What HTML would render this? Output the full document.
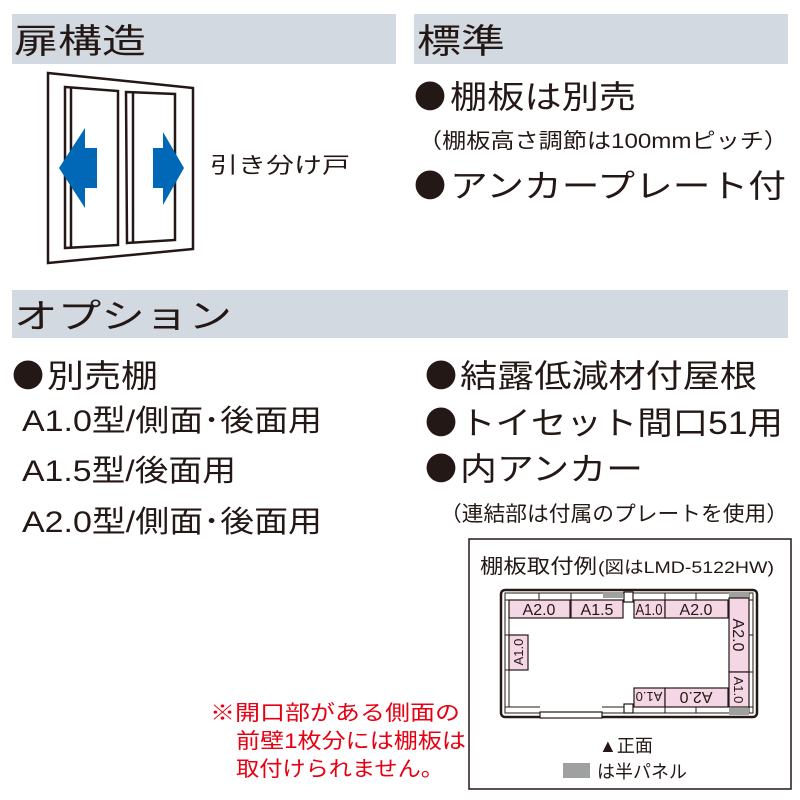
<!DOCTYPE html>
<html><head><meta charset="utf-8"><style>html,body{margin:0;padding:0;background:#fff}svg{display:block}</style></head><body>
<svg width="800" height="800" viewBox="0 0 800 800" xmlns="http://www.w3.org/2000/svg" font-family="'Liberation Sans','Noto Sans CJK JP',sans-serif" fill="#231815">
<rect x="12" y="14" width="384" height="50" fill="#d3d9e0"/>
<rect x="414" y="14" width="374" height="50" fill="#d3d9e0"/>
<rect x="12" y="290" width="776" height="48" fill="#d3d9e0"/>
<text x="14" y="53" font-size="34" textLength="132" lengthAdjust="spacingAndGlyphs">扉構造</text>
<text x="417" y="53" font-size="34" textLength="88" lengthAdjust="spacingAndGlyphs">標準</text>
<text x="14" y="328" font-size="34" textLength="218" lengthAdjust="spacingAndGlyphs">オプション</text>
<!-- door -->
<g fill="none" stroke="#231815" stroke-width="2.5">
<polygon points="48,73 193,88 193,249 48,263"/>
<polygon points="65,87 118,91 118,245 65,248"/>
<line x1="71" y1="88" x2="71" y2="247"/>
<polygon points="126,92 175,94 175,240 127,243"/>
<line x1="133" y1="92" x2="133" y2="242"/>
</g>
<polygon fill="#0068b7" points="59,168 85,128 85,148 97,148 97,188 85,188 85,208"/>
<polygon fill="#0068b7" points="184,168 163,132 163,148 153,148 153,188 163,188 163,205"/>
<text x="210" y="173" font-size="22" textLength="140" lengthAdjust="spacingAndGlyphs">引き分け戸</text>
<g font-family="'Noto Sans CJK JP',sans-serif">
<text x="414" y="108" font-size="32">●</text>
<text x="414" y="197" font-size="32">●</text>
<text x="12" y="387" font-size="32">●</text>
<text x="425" y="387" font-size="32">●</text>
<text x="425" y="434" font-size="32">●</text>
<text x="425" y="480" font-size="32">●</text>
</g>
<!-- standard -->
<text x="450" y="108" font-size="32" textLength="186" lengthAdjust="spacingAndGlyphs">棚板は別売</text>
<text x="418" y="148" font-size="21" textLength="370" lengthAdjust="spacingAndGlyphs">（棚板高さ調節は100mmピッチ）</text>
<text x="450" y="197" font-size="32" textLength="336" lengthAdjust="spacingAndGlyphs">アンカープレート付</text>
<!-- options left -->
<text x="47" y="387" font-size="32" textLength="111" lengthAdjust="spacingAndGlyphs">別売棚</text>
<text x="22" y="431" font-size="30" textLength="300" lengthAdjust="spacingAndGlyphs">A1.0型/側面･後面用</text>
<text x="22" y="481" font-size="30" textLength="214" lengthAdjust="spacingAndGlyphs">A1.5型/後面用</text>
<text x="22" y="532" font-size="30" textLength="300" lengthAdjust="spacingAndGlyphs">A2.0型/側面･後面用</text>
<!-- options right -->
<text x="460" y="387" font-size="32" textLength="297" lengthAdjust="spacingAndGlyphs">結露低減材付屋根</text>
<text x="460" y="434" font-size="32" textLength="323" lengthAdjust="spacingAndGlyphs">トイセット間口51用</text>
<text x="460" y="480" font-size="32" textLength="183" lengthAdjust="spacingAndGlyphs">内アンカー</text>
<text x="440" y="521" font-size="21" textLength="348" lengthAdjust="spacingAndGlyphs">（連結部は付属のプレートを使用）</text>
<!-- shelf diagram -->
<rect x="469" y="539" width="322" height="250" fill="none" stroke="#231815" stroke-width="1.5"/>
<text x="480" y="573" font-size="20" textLength="117" lengthAdjust="spacingAndGlyphs">棚板取付例</text>
<text x="598" y="573" font-size="17" textLength="176" lengthAdjust="spacingAndGlyphs">(図はLMD-5122HW)</text>
<g stroke="#231815" stroke-width="1.2" fill="none">
<rect x="501" y="590" width="256" height="127" rx="4" stroke-width="2.5"/>
<rect x="505" y="593" width="248" height="120" stroke-width="1"/>
<path d="M505,600 H753 M505,707 H540 M602,707 H624 M633,707 H753 M509,600 V707 M749,593 V713 M539,593 V600 M571,593 V600 M665,593 V600 M696,593 V600 M505,635 H509 M505,670 H509 M749,635 H753 M749,672 H753 M665,707 V713 M696,707 V713" stroke-width="1"/>
</g>
<g fill="#fff" stroke="#231815" stroke-width="1.2">
<rect x="624" y="592" width="9" height="10"/>
<rect x="624" y="704" width="9" height="9"/>
<rect x="540" y="712" width="62" height="6"/>
</g>
<rect x="603" y="592" width="20" height="6" fill="#9fa0a0"/>
<rect x="729" y="592" width="20" height="6" fill="#9fa0a0"/>
<rect x="729" y="708" width="20" height="7" fill="#9fa0a0"/>
<g fill="#f4d6e4" stroke="#231815" stroke-width="1.2">
<rect x="509" y="600" width="61" height="18"/>
<rect x="571" y="600" width="52" height="18"/>
<rect x="634" y="600" width="31" height="18"/>
<rect x="665" y="600" width="63" height="18"/>
<rect x="729" y="598" width="20" height="74"/>
<rect x="729" y="672" width="20" height="35"/>
<rect x="509" y="635" width="19" height="35"/>
<rect x="634" y="688" width="31" height="19"/>
<rect x="665" y="688" width="63" height="19"/>
</g>
<g font-size="16">
<text x="539" y="615" text-anchor="middle">A2.0</text>
<text x="597" y="615" text-anchor="middle">A1.5</text>
<text x="649" y="615" text-anchor="middle" textLength="27" lengthAdjust="spacingAndGlyphs">A1.0</text>
<text x="696" y="615" text-anchor="middle">A2.0</text>
<text transform="translate(733,635) rotate(90)" text-anchor="middle">A2.0</text>
<text transform="translate(734,690) rotate(90)" text-anchor="middle" font-size="13">A1.0</text>
<text transform="translate(523,652) rotate(-90)" text-anchor="middle" font-size="13">A1.0</text>
<text transform="translate(649,692) rotate(180)" text-anchor="middle" font-size="13">A1.0</text>
<text transform="translate(696,692) rotate(180)" text-anchor="middle">A2.0</text>
</g>
<text x="599" y="752" font-size="18">▲正面</text>
<rect x="563" y="763" width="27" height="15" fill="#9fa0a0"/>
<text x="597" y="778" font-size="18">は半パネル</text>
<!-- red note -->
<g fill="#e60012" font-size="21">
<text x="210" y="720" textLength="250" lengthAdjust="spacingAndGlyphs">※開口部がある側面の</text>
<text x="236" y="748" textLength="230" lengthAdjust="spacingAndGlyphs">前壁1枚分には棚板は</text>
<text x="236" y="776" textLength="208" lengthAdjust="spacingAndGlyphs">取付けられません。</text>
</g>
</svg>
</body></html>
